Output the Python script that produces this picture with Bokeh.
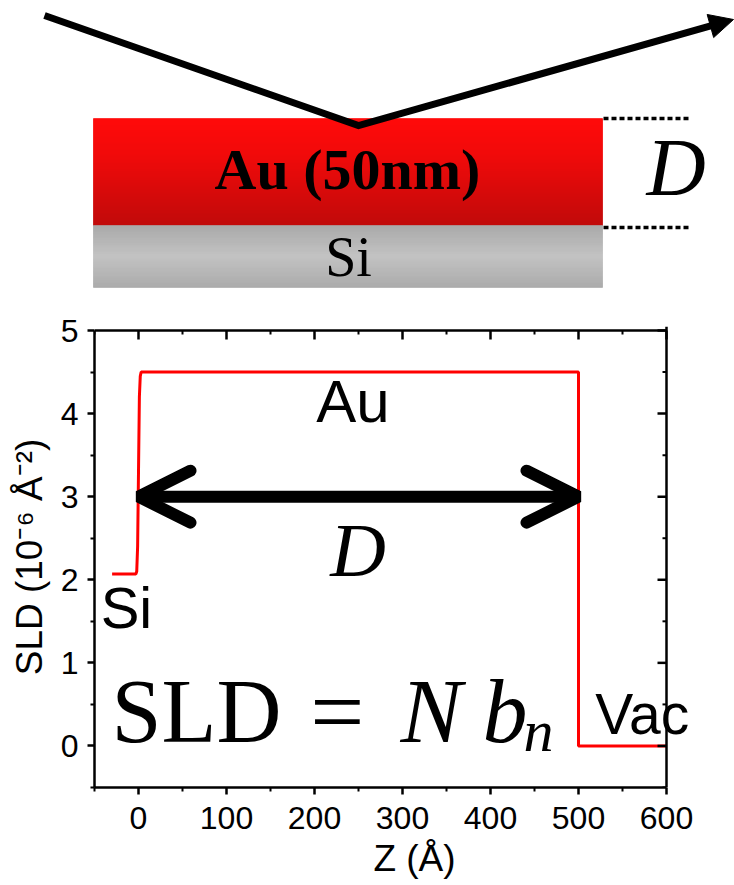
import numpy as np
from bokeh.plotting import figure
from bokeh.layouts import column
from bokeh.models import Range1d, Label, Arrow, OpenHead, NormalHead, FixedTicker, Span
from bokeh.embed import file_html
from bokeh.resources import INLINE

# ---------------- data: SLD depth profile of Au (50 nm) on Si ----------------
z_angstrom = [-30, -3, -2, -1, 0, 1, 2, 3, 500, 500, 600]
sld_value = [2.07, 2.07, 2.1, 2.4, 3.3, 4.2, 4.45, 4.5, 4.5, 0.0, 0.0]

film_start = 0      # Si / Au interface (Å)
film_end = 500      # Au / vacuum interface (Å)
arrow_level = 3.0   # SLD height of the thickness arrow

x_major = [0, 100, 200, 300, 400, 500, 600]
x_minor = [-50, 50, 150, 250, 350, 450, 550]
y_major = [0, 1, 2, 3, 4, 5]
y_minor = [-0.5, 0.5, 1.5, 2.5, 3.5, 4.5]

# axis box limits
X_MIN, X_MAX = -50, 600
Y_MIN, Y_MAX = -0.5, 5

SANS = "Liberation Sans"
SERIF = "Liberation Serif"


def unalign(fig):
    # keep each figure's frame where its own borders put it
    if "frame_align" in fig.properties():
        fig.frame_align = False


# ---------------- schematic: beam reflected off the Au film ----------------
sk = figure(width=734, height=300, x_range=Range1d(0, 734), y_range=Range1d(300, 0),
            output_backend="svg", toolbar_location=None, min_border=0,
            x_axis_location=None, y_axis_location=None)
sk.grid.visible = False
sk.outline_line_color = None
unalign(sk)

LAYER_L, LAYER_R = 93, 602
AU_TOP, AU_BOT, SI_BOT = 118, 225, 287


def gradient_band(y_top, y_bot, pos, levels, channels):
    """Fill a band with thin horizontal strips following a vertical colour ramp."""
    ys = np.arange(y_top, y_bot)
    t = (ys - y_top) / max(y_bot - y_top - 1, 1)
    ramp = np.interp(t, pos, levels)
    cols = []
    for v in ramp:
        r, g, b = [int(round(v * c)) for c in channels]
        cols.append("#%02x%02x%02x" % (r, g, b))
    sk.quad(left=LAYER_L, right=LAYER_R, top=ys, bottom=ys + 1,
            fill_color=cols, line_color=cols, line_width=0.6)


# Au film: bright red darkening towards the substrate
gradient_band(AU_TOP, AU_BOT, [0, 0.35, 1], [255, 240, 190], (1, 0, 0))
# Si substrate: grey, lighter in the middle
gradient_band(AU_BOT, SI_BOT, [0, 0.5, 1], [166, 192, 168], (1, 1, 1))

# incident and reflected beam
tip = (733, 19)
vertex = (358, 125)
d = np.array(tip, dtype=float) - np.array(vertex, dtype=float)
u = d / np.hypot(*d)
head_base = np.array(tip) - 21 * u
sk.line([44, vertex[0], head_base[0]], [15, vertex[1], head_base[1]],
        line_color="black", line_width=7, line_join="miter")
sk.add_layout(Arrow(x_start=vertex[0], y_start=vertex[1], x_end=tip[0], y_end=tip[1],
                    line_alpha=0,
                    end=NormalHead(size=24, fill_color="black", line_color="black")))

# thickness markers
for yy in (AU_TOP, 227):
    sk.line([603, 690], [yy, yy], line_color="black", line_width=3.5, line_dash="5 3")

sk.add_layout(Label(x=347, y=169, text="Au (50nm)", text_font=SERIF, text_font_style="bold",
                    text_font_size="58px", text_align="center", text_baseline="alphabetic",
                    text_color="black"))
sk.add_layout(Label(x=348, y=256, text="Si", text_font=SERIF, text_color="black",
                    text_font_size="56px", text_align="center", text_baseline="alphabetic"))
sk.add_layout(Label(x=646, y=167, text="D", text_font=SERIF, text_font_style="italic",
                    text_font_size="82px", text_align="left", text_baseline="alphabetic",
                    text_color="black"))

# ---------------- SLD profile plot ----------------
# The drawing area runs on past the right edge of the axis box (to the page edge)
# so that the "Vac" label may cross the box line.
PX_PER_UNIT_X = 572 / (X_MAX - X_MIN)
PX_PER_UNIT_Y = 457 / (Y_MAX - Y_MIN)
x_view_end = X_MIN + 640 / PX_PER_UNIT_X
y_view_end = Y_MAX + 4 / PX_PER_UNIT_Y

p = figure(width=734, height=585, x_range=Range1d(X_MIN, x_view_end),
           y_range=Range1d(Y_MIN, y_view_end),
           output_backend="svg", toolbar_location=None,
           min_border_left=94, min_border_right=0, min_border_top=26, min_border_bottom=98)
p.grid.visible = False
p.outline_line_color = None
unalign(p)

p.line(z_angstrom, sld_value, line_color="#ff0000", line_width=3)

p.add_layout(Arrow(x_start=film_start, y_start=arrow_level, x_end=film_end, y_end=arrow_level,
                   line_width=12, line_color="black",
                   start=OpenHead(size=52, line_width=12, line_cap="round", line_color="black"),
                   end=OpenHead(size=52, line_width=12, line_cap="round", line_color="black")))


def style_axis(ax, ticks, minor, bounds):
    ax.ticker = FixedTicker(ticks=ticks, minor_ticks=minor)
    ax.bounds = bounds
    ax.axis_line_width = 2.5
    ax.major_tick_line_width = 2.5
    ax.minor_tick_line_width = 2
    ax.major_tick_out, ax.major_tick_in = 7, 0
    ax.minor_tick_out, ax.minor_tick_in = 4, 0
    ax.major_label_text_font = SANS
    ax.major_label_text_font_size = "32px"
    ax.major_label_text_color = "black"
    ax.axis_label_text_font = SANS
    ax.axis_label_text_font_size = "37px"
    ax.axis_label_text_font_style = "normal"
    ax.axis_label_text_color = "black"


style_axis(p.xaxis[0], x_major, x_minor, (X_MIN, X_MAX))
style_axis(p.yaxis[0], y_major, y_minor, (Y_MIN, Y_MAX))
p.xaxis[0].axis_label = "Z (Å)"
p.yaxis[0].axis_label = "SLD (10⁻⁶ Å⁻²)"
p.xaxis[0].major_label_standoff = 12
p.yaxis[0].major_label_standoff = 9
p.xaxis[0].axis_label_standoff = 6
p.yaxis[0].axis_label_standoff = 8

# top and right edges of the axis box
p.line([X_MIN, X_MAX], [Y_MAX, Y_MAX], line_color="black", line_width=2.5)
p.add_layout(Span(location=X_MAX, dimension="height", line_color="black", line_width=2.5))

# mirrored inward ticks on the top and right edges of the box
p.ray(x=x_major, y=Y_MAX, length=9, length_units="screen", angle=-np.pi / 2,
      line_color="black", line_width=2.5)
p.ray(x=x_minor, y=Y_MAX, length=4, length_units="screen", angle=-np.pi / 2,
      line_color="black", line_width=2)
p.ray(x=X_MAX, y=y_major, length=9, length_units="screen", angle=np.pi,
      line_color="black", line_width=2.5)
p.ray(x=X_MAX, y=y_minor, length=4, length_units="screen", angle=np.pi,
      line_color="black", line_width=2)


def note(x, y, text, size, font=SANS, style="normal", align="left"):
    p.add_layout(Label(x=x, y=y, text=text, text_font=font, text_font_style=style,
                       text_font_size=size, text_align=align, text_baseline="alphabetic",
                       text_color="black"))


# layer names
note(202, 4.15, "Au", "60px")
note(-43, 1.67, "Si", "58px")
note(519, 0.38, "Vac", "57px")

# thickness symbol and SLD definition
note(218, 2.36, "D", "77px", font=SERIF, style="italic")
note(-30.7, 0.42, "SLD", "90px", font=SERIF)
note(226, 0.42, "=", "96px", font=SERIF, align="center")
note(297.7, 0.42, "N", "92px", font=SERIF, style="italic")
note(391, 0.42, "b", "90px", font=SERIF, style="italic")
note(437.5, 0.18, "n", "60px", font=SERIF, style="italic")

layout = column(sk, p, spacing=0)
open("out.html", "w").write(file_html(layout, INLINE))
